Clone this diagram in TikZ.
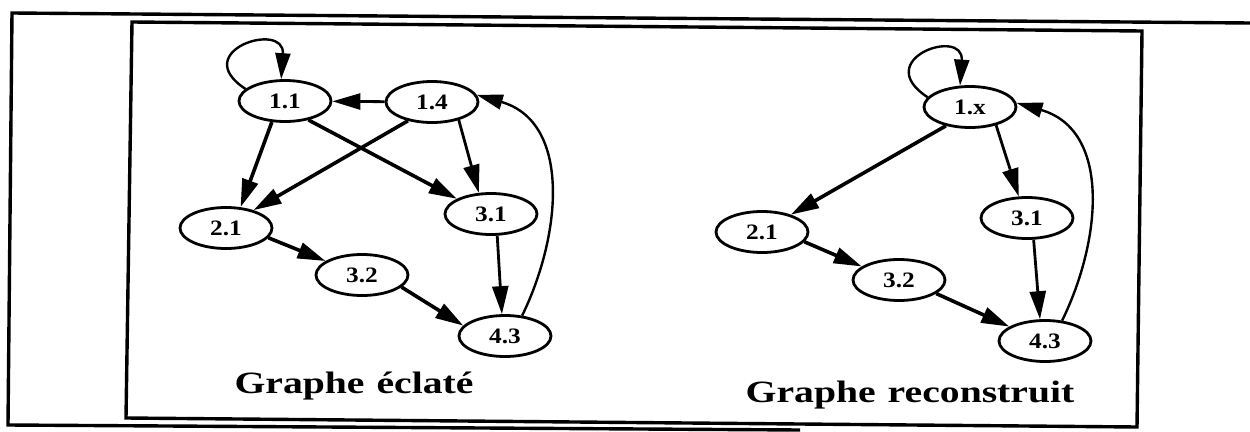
\documentclass[tikz,border=0pt]{standalone}
\usepackage{fontspec}
\newfontfamily\labfont{Liberation Serif}[FakeStretch=1.15]
\newfontfamily\titfont{Liberation Serif}[FakeStretch=1.28]
\usetikzlibrary{arrows.meta,shapes.geometric}
\begin{document}
\begin{tikzpicture}[x=1pt,y=1pt,
  st/.style={ellipse, draw, line width=2.8pt, inner sep=0pt, minimum width=92pt, minimum height=41pt,
    font=\labfont\bfseries\fontsize{22}{26}\selectfont},
  thk/.style={line width=3.6pt, -{Triangle[length=28pt,width=16pt]}},
  med/.style={line width=2.8pt, -{Triangle[length=28pt,width=16pt]}},
  thn/.style={line width=2.4pt, -{Triangle[length=26pt,width=15pt]}},
  frame/.style={line width=3.4pt, line join=miter},
  title/.style={font=\titfont\bfseries\fontsize{31}{36}\selectfont, anchor=base, inner sep=0pt}]
\useasboundingbox (0,0) rectangle (1250,-431);
% frames
\draw[frame] (1250,-23) -- (12,-13) -- (8,-425) -- (800,-430);
\draw[frame] (132,-22) -- (1142,-31) -- (1137,-427) -- (126,-418) -- cycle;
% left graph
\node[st] (a11) at (285,-101) {1.1};
\node[st] (a14) at (432,-102) {1.4};
\node[st] (a21) at (226,-228) {2.1};
\node[st] (a32) at (362,-275) {3.2};
\node[st] (a31) at (491,-214) {3.1};
\node[st] (a43) at (505,-336) {4.3};
\draw[thk] (a11.238) -- (a21.55);
\draw[thk] (a14.218) -- (a21.33);
\draw[thk] (a11.321) -- (a31.156);
\draw[med] (a14.326) -- (a31.120);
\draw[med] (a14) -- (a11);
\draw[thk] (a21.347) -- (a32.159);
\draw[thk] (a32.343) -- (a43.166);
\draw[med] (a31.286) -- (a43.98);
\draw[thn] (a43.50) .. controls +(40,82) and +(94,-27) .. (a14.9);
\draw[thn] (a11.163) .. controls +(-58,38) and +(4,59) .. (a11.100);
\node[title] (t1) at (354,-393) {Graphe\hspace{12pt}éclaté};
% right graph
\node[st] (b1x) at (970,-107) {1.x};
\node[st] (b21) at (762,-232) {2.1};
\node[st] (b32) at (899,-280) {3.2};
\node[st] (b31) at (1027,-218) {3.1};
\node[st] (b43) at (1045,-341) {4.3};
\draw[thk] (b1x.218) -- (b21.31);
\draw[med] (b1x.325) -- (b31.111);
\draw[thk] (b21.347) -- (b32.160);
\draw[thk] (b32.340) -- (b43.158);
\draw[med] (b31.287) -- (b43.103);
\draw[thn] (b43.50) .. controls +(40,82) and +(94,-27) .. (b1x.5);
\draw[thn] (b1x.167) .. controls +(-58,38) and +(4,59) .. (b1x.115);
\node[title] (t2) at (910,-402) {Graphe\hspace{12pt}reconstruit};
\end{tikzpicture}
\end{document}
